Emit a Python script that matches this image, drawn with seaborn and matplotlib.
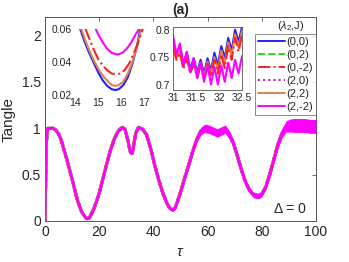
import numpy as np
import pandas as pd
import seaborn as sns
import matplotlib
matplotlib.use("Agg")
import matplotlib.pyplot as plt
from matplotlib.lines import Line2D

sns.set_theme(style="white")
plt.rcParams['font.family'] = ['Liberation Sans', 'DejaVu Sans']
plt.rcParams['mathtext.fontset'] = 'custom'
plt.rcParams['mathtext.rm'] = 'Liberation Sans'
plt.rcParams['mathtext.it'] = 'Liberation Sans:italic'

# ---------------- data ----------------
series_labels = ["(0,0)", "(0,2)", "(0,-2)", "(2,0)", "(2,2)", "(2,-2)"]
series_colors = ["#2020FF", "#22DD22", "#FF2020", "#D000D0", "#E08050", "#FF00FF"]
series_styles = ["-", "--", "-.", ":", "-", "-"]

tau_main = [0, 0.5, 1, 2, 3, 4, 5, 6, 8, 10, 12, 13.5, 15, 15.7, 16.5, 18, 19, 20,
            21.5, 23, 24, 25.5, 27, 28.5, 29.5, 30.5, 31.5, 32.2, 33.5, 34.5, 36,
            37.5, 39, 40.5, 42, 43.5, 45, 46, 47, 48, 49, 50, 51.5, 53, 54.5, 56,
            57.5, 59, 60.5, 62, 63.5, 65, 66.5, 68, 69.5, 71, 72.5, 74, 75.5, 77,
            78.7, 80, 81.5, 83, 84.5, 86, 87.5, 89, 90.5, 92, 94, 96, 98, 100]
tangle_main = [0, 0.85, 1.0, 1.0, 1.0, 0.98, 0.94, 0.87, 0.67, 0.45, 0.22, 0.10,
               0.035, 0.025, 0.04, 0.13, 0.21, 0.30, 0.47, 0.64, 0.75, 0.88, 0.97,
               1.01, 0.99, 0.88, 0.74, 0.73, 0.95, 1.01, 0.99, 0.93, 0.78, 0.60,
               0.44, 0.30, 0.19, 0.14, 0.12, 0.14, 0.22, 0.31, 0.46, 0.60, 0.75,
               0.88, 0.97, 1.0, 0.99, 0.97, 0.95, 0.97, 0.99, 0.93, 0.84, 0.70,
               0.55, 0.42, 0.33, 0.28, 0.27, 0.29, 0.37, 0.51, 0.67, 0.83, 0.95,
               1.02, 1.03, 1.03, 1.03, 1.03, 1.02, 1.02]
# half-width of the fast-oscillation band of the (2,-2) curve
band_half = [0, 0.01, 0.01, 0.01, 0.01, 0.01, 0.01, 0.01, 0.01, 0.01, 0.01, 0.01,
             0.01, 0.01, 0.01, 0.01, 0.01, 0.012, 0.012, 0.012, 0.012, 0.012,
             0.012, 0.012, 0.012, 0.012, 0.012, 0.012, 0.014, 0.014, 0.015, 0.015,
             0.016, 0.016, 0.017, 0.017, 0.018, 0.018, 0.018, 0.02, 0.02, 0.022,
             0.024, 0.026, 0.03, 0.035, 0.04, 0.045, 0.045, 0.045, 0.045, 0.045,
             0.045, 0.045, 0.04, 0.035, 0.03, 0.03, 0.03, 0.03, 0.03, 0.03, 0.03,
             0.035, 0.04, 0.045, 0.05, 0.06, 0.07, 0.075, 0.075, 0.075, 0.075, 0.075]

# inset 1 (around the first minimum)
in1_x_blue = [14.2, 14.4, 14.6, 14.8, 15.0, 15.2, 15.4, 15.6, 15.75, 15.9, 16.1, 16.3, 16.5, 16.7, 16.85]
in1_y_blue = [0.061, 0.053, 0.046, 0.040, 0.034, 0.029, 0.0255, 0.0235, 0.023, 0.0235, 0.026, 0.031, 0.039, 0.050, 0.061]
in1_x_coral = [14.25, 14.45, 14.65, 14.85, 15.05, 15.25, 15.45, 15.6, 15.75, 15.9, 16.1, 16.3, 16.5, 16.7, 16.9]
in1_y_coral = [0.061, 0.053, 0.046, 0.040, 0.035, 0.031, 0.028, 0.026, 0.0255, 0.026, 0.028, 0.033, 0.040, 0.050, 0.061]
in1_x_red = [14.43, 14.6, 14.8, 15.0, 15.2, 15.4, 15.6, 15.78, 15.95, 16.15, 16.35, 16.55, 16.75, 16.97]
in1_y_red = [0.061, 0.055, 0.048, 0.042, 0.038, 0.035, 0.033, 0.0325, 0.033, 0.035, 0.039, 0.045, 0.052, 0.061]
in1_x_mag = [14.87, 15.0, 15.2, 15.4, 15.6, 15.85, 16.05, 16.25, 16.45, 16.65, 16.83]
in1_y_mag = [0.061, 0.057, 0.052, 0.048, 0.0455, 0.0445, 0.0455, 0.048, 0.052, 0.057, 0.061]

# inset 2 (around the dip near tau = 31.5)
in2_x = [31.0, 31.075, 31.15, 31.225, 31.3, 31.375, 31.45, 31.525, 31.6, 31.675, 31.75,
         31.825, 31.9, 31.975, 32.05, 32.125, 32.2, 32.275, 32.35, 32.425, 32.5]
in2_blue = [0.775, 0.752, 0.770, 0.738, 0.758, 0.728, 0.748, 0.722, 0.745, 0.720, 0.748,
            0.725, 0.758, 0.735, 0.770, 0.748, 0.785, 0.762, 0.800, 0.778, 0.805]
in2_coral = [0.772, 0.748, 0.764, 0.732, 0.752, 0.724, 0.742, 0.716, 0.740, 0.714, 0.742,
             0.719, 0.750, 0.727, 0.762, 0.739, 0.777, 0.753, 0.792, 0.768, 0.798]
in2_red = [0.768, 0.745, 0.758, 0.728, 0.748, 0.720, 0.738, 0.712, 0.735, 0.710, 0.738,
           0.714, 0.745, 0.720, 0.755, 0.730, 0.770, 0.745, 0.785, 0.760, 0.790]
in2_mag = [0.790, 0.755, 0.775, 0.735, 0.760, 0.722, 0.748, 0.712, 0.740, 0.705, 0.735,
           0.700, 0.732, 0.700, 0.735, 0.705, 0.740, 0.712, 0.745, 0.720, 0.752]

# ---------------- figure ----------------
W, H = 349, 262
fig = plt.figure(figsize=(W / 100, H / 100), dpi=100)

def frac(l, t, r, b):
    return [l / W, 1 - b / H, (r - l) / W, (b - t) / H]

spine_c = "#555555"
ax = fig.add_axes(frac(45, 17, 316, 221))
df = pd.DataFrame({"tau": tau_main, "T": tangle_main})
order = [0, 1, 2, 3, 4]
for i in order:
    sns.lineplot(data=df, x="tau", y="T", ax=ax, color=series_colors[i],
                 linestyle=series_styles[i], linewidth=2.2, estimator=None, sort=False)
lo = np.array(tangle_main) - np.array(band_half)
hi = np.array(tangle_main) + np.array(band_half)
ax.fill_between(tau_main, lo, hi, color=series_colors[5], linewidth=0, zorder=3)
sns.lineplot(data=df, x="tau", y="T", ax=ax, color=series_colors[5],
             linewidth=1.8, estimator=None, sort=False, zorder=4)

ax.set_xlim(0, 100)
ax.set_ylim(0, 2.2)
ax.set_xticks([0, 20, 40, 60, 80, 100])
ax.set_yticks([0, 0.5, 1, 1.5, 2])
ax.set_yticklabels(["0", "0.5", "1", "1.5", "2"])
ax.tick_params(direction="in", length=3, width=0.6, labelsize=10, colors="#262626",
               top=True, right=True, pad=3, color=spine_c)
for s in ax.spines.values():
    s.set_color(spine_c)
    s.set_linewidth(0.7)
ax.set_xlabel(r"$\tau$", fontsize=11, labelpad=4)
ax.set_ylabel("Tangle", fontsize=11, labelpad=4)
ax.set_title("(a)", fontsize=10, fontweight="bold", pad=2)
ax.text(0.905, 0.06, "Δ = 0", transform=ax.transAxes, ha="center", va="center",
        fontsize=10)

handles = [Line2D([], [], color=series_colors[i], linestyle=series_styles[i],
                  linewidth=1.4) for i in range(6)]
leg = ax.legend(handles, series_labels, loc="upper right", bbox_to_anchor=(1.0, 0.917),
                fontsize=8, handlelength=2.4, handletextpad=0.15, labelspacing=0.28,
                borderpad=0.25, borderaxespad=0, frameon=True, fancybox=False)
leg.get_frame().set_edgecolor(spine_c)
leg.get_frame().set_linewidth(0.6)
ax.text(0.905, 0.955, r"($\lambda_2$,J)", transform=ax.transAxes, ha="center",
        va="center", fontsize=8)

# inset 1
ax1 = fig.add_axes(frac(75, 29, 144, 95))
for xs, ys, c, ls in [(in1_x_blue, in1_y_blue, series_colors[0], "-"),
                      (in1_x_coral, in1_y_coral, series_colors[4], "-"),
                      (in1_x_red, in1_y_red, series_colors[2], "-."),
                      (in1_x_mag, in1_y_mag, series_colors[5], "-")]:
    sns.lineplot(x=xs, y=ys, ax=ax1, color=c, linestyle=ls, linewidth=1.5,
                 estimator=None, sort=False)
ax1.set_xlim(14, 17)
ax1.set_ylim(0.02, 0.06)
ax1.set_xticks([14, 15, 16, 17])
ax1.set_yticks([0.02, 0.04, 0.06])
ax1.set_yticklabels(["0.02", "0.04", "0.06"])
ax1.tick_params(direction="in", length=1.5, width=0.5, labelsize=7.5, pad=2,
                colors="#262626", color="#bbbbbb")
ax1.patch.set_alpha(0)
for s in ax1.spines.values():
    s.set_visible(False)

# inset 2
ax2 = fig.add_axes(frac(173, 27, 242, 90))
for ys, c, ls in [(in2_blue, series_colors[0], "-"),
                  (in2_coral, series_colors[4], "-"),
                  (in2_red, series_colors[2], "-."),
                  (in2_mag, series_colors[5], "-")]:
    sns.lineplot(x=in2_x, y=ys, ax=ax2, color=c, linestyle=ls, linewidth=1.5,
                 estimator=None, sort=False)
ax2.set_xlim(31, 32.5)
ax2.set_ylim(0.69, 0.805)
ax2.set_xticks([31, 31.5, 32, 32.5])
ax2.set_xticklabels(["31", "31.5", "32", "32.5"])
ax2.set_yticks([0.7, 0.75, 0.8])
ax2.set_yticklabels(["0.7", "0.75", "0.8"])
ax2.tick_params(direction="in", length=1.5, width=0.5, labelsize=7.5, pad=2,
                colors="#262626", color=spine_c)
for s in ax2.spines.values():
    s.set_color(spine_c)
    s.set_linewidth(0.6)

fig.savefig("out.png", dpi=100)
